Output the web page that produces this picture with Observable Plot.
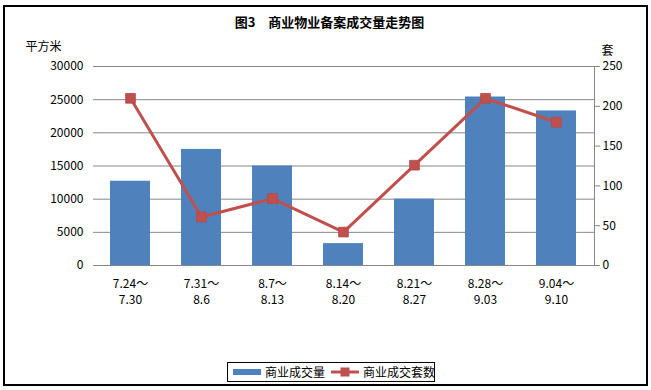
<!DOCTYPE html>
<html><head><meta charset="utf-8">
<script src="https://cdn.jsdelivr.net/npm/d3@7"></script>
<script src="https://cdn.jsdelivr.net/npm/@observablehq/plot@0.6"></script>
<style>
body{margin:0;background:#fff;font-family:"Noto Sans CJK SC",sans-serif;}
#wrap{position:relative;width:651px;height:390px;overflow:hidden;}
#border{position:absolute;left:3px;top:5px;width:645px;height:381px;border:2px solid #000;box-sizing:border-box;}
#title{position:absolute;left:4px;top:12px;width:651px;text-align:center;font-size:13px;font-weight:bold;line-height:20px;}
#chart{position:absolute;left:0;top:30px;}
#legend{position:absolute;left:227px;top:362px;width:208px;height:20px;border:1px solid #000;box-sizing:border-box;font-size:12px;line-height:18px;white-space:nowrap;}
#legend span{position:absolute;top:0;white-space:nowrap;}
</style></head>
<body>
<div id="wrap">
<div id="border"></div>
<div id="title">图3　商业物业备案成交量走势图</div>
<div id="chart"></div>
<div id="legend">
 <svg style="position:absolute;left:5px;top:5px" width="28" height="8"><rect x="0" y="1" width="28" height="6" fill="#4F81BD"/></svg>
 <span style="left:37px">商业成交量</span>
 <svg style="position:absolute;left:103px;top:3px" width="28" height="12"><line x1="0" y1="6" x2="28" y2="6" stroke="#C0504D" stroke-width="3"/><rect x="9.5" y="1.5" width="9" height="9" fill="#C0504D"/></svg>
 <span style="left:135px">商业成交套数</span>
</div>
</div>
<script>
const periodStart = ["7.24","7.31","8.7","8.14","8.21","8.28","9.04"];
const periodEnd = ["7.30","8.6","8.13","8.20","8.27","9.03","9.10"];
const area = [12700,17500,15000,3300,10000,25400,23300];
const units = [210,61,84,42,126,210,180];
const leftTicks = [0,5000,10000,15000,20000,25000,30000];
const rightTicks = [0,50,100,150,200,250];

const ratio = 30000/250;
const cats = periodStart.map((s,i)=>s+"～\n"+periodEnd[i]);
const data = cats.map((c,i)=>({cat:c, area:area[i], units:units[i]}));

const chart = Plot.plot({
  width:651, height:326,
  marginTop:36, marginBottom:91, marginLeft:93, marginRight:57,
  style:{fontFamily:"'Noto Sans CJK SC', sans-serif", fontSize:"12px", color:"#000", background:"transparent"},
  x:{domain:cats, paddingInner:0.43, paddingOuter:0.215, axis:null},
  y:{domain:[0,30000], axis:null},
  marks:[
    Plot.gridY(leftTicks, {stroke:"#868686", strokeOpacity:1}),
    Plot.barY(data, {x:"cat", y:"area", fill:"#4F81BD"}),
    Plot.ruleY([0], {stroke:"#868686"}),
    Plot.frame({anchor:"right", stroke:"#868686"}),
    Plot.line(data, {x:"cat", y:d=>d.units*ratio, stroke:"#C0504D", strokeWidth:3}),
    Plot.dot(data, {x:"cat", y:d=>d.units*ratio, symbol:"square", r:5.5, fill:"#C0504D", stroke:"#B94845", strokeWidth:0.8}),
    Plot.axisY(leftTicks, {anchor:"left", tickSize:0, tickPadding:10, label:null, tickFormat:d=>String(d)}),
    Plot.axisY(rightTicks.map(v=>v*ratio), {anchor:"right", tickSize:5, tickPadding:3, label:null, stroke:"#868686", fill:"#000", tickFormat:v=>String(Math.round(v/ratio))}),
    Plot.axisX({tickSize:0, tickPadding:11, lineHeight:1.35, label:null}),
    Plot.text(["平方米"], {frameAnchor:"top-left", dx:-68, dy:-24, textAnchor:"start", fontSize:12}),
    Plot.text(["套"], {frameAnchor:"top-right", dx:19, dy:-20, fontSize:12})
  ]
});
document.getElementById("chart").appendChild(chart);
</script>
</body></html>
